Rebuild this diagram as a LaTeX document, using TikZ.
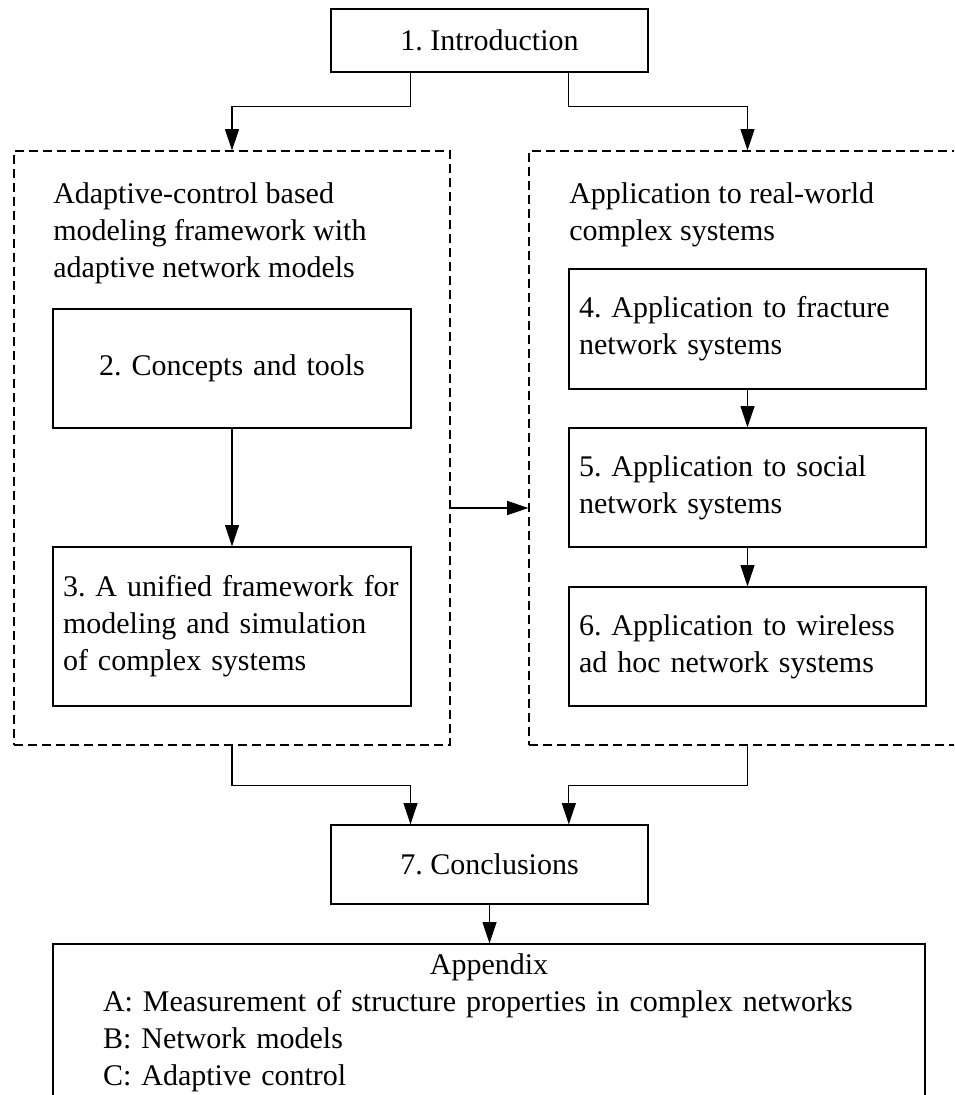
\documentclass[tikz,border=0pt]{standalone}
\usepackage{fontspec}
\setmainfont{Liberation Serif}
\usetikzlibrary{arrows.meta}
\frenchspacing

\begin{document}
\begin{tikzpicture}
[x=0.75pt, y=-0.75pt,
every node/.style = {font=\fontsize{22.5}{27.75}\selectfont},
box/.style = {shape=rectangle, draw, line width=0.9pt, inner sep=7.5pt},
grp/.style = {shape=rectangle, draw, line width=0.8pt,
	dash pattern=on 7pt off 3.5pt, inner sep=0pt},
arr/.style = {line width=0.8pt, -{Triangle[length=16pt,width=10.5pt]}}]
 \clip (0,0) rectangle (954,1095);

  % top and bottom
  \node[box, minimum width=237.75pt, minimum height=47.25pt] (intro) at (489.5,40.5) {1. Introduction};
  \node[box, minimum width=237.75pt, minimum height=59.25pt] (conc) at (489.5,864.5) {7. Conclusions};
  \node[box, text width=654pt, inner sep=0pt, minimum height=118.5pt, align=left] (app) at (489,1023)
  	{{\centering Appendix\par}
  	\hspace*{37.5pt}A: Measurement of structure properties in complex networks\par
  	\hspace*{37.5pt}B: Network models\par
  	\hspace*{37.5pt}C: Adaptive control};

  % dashed groups
  \node[grp, minimum width=327pt, minimum height=445.5pt] (lgrp) at (232,448) {};
  \node[grp, minimum width=327.75pt, minimum height=445.5pt] (rgrp) at (747.5,448) {};
  \node[anchor=north west, inner sep=0pt, align=left] (lhead) at (53,182)
  	{Adaptive-control based\\modeling framework with\\adaptive network models};
  \node[anchor=north west, inner sep=0pt, align=left] (rhead) at (569,182)
  	{Application to real-world\\complex systems};

  % left column
  \node[box, text width=253.5pt, minimum height=89.25pt, align=center] (concepts) at (232,368.5)
  	{2. Concepts and tools};
  \node[box, text width=253.5pt, minimum height=119.25pt, align=left] (unified) at (232,626.5)
  	{3. A unified framework for\\modeling and simulation\\of complex systems};

  % right column
  \node[box, text width=252.75pt, minimum height=90pt, align=left] (fracture) at (747.5,329)
  	{4. Application to fracture\\network systems};
  \node[box, text width=252.75pt, minimum height=89.25pt, align=left] (social) at (747.5,487.5)
  	{5. Application to social\\network systems};
  \node[box, text width=252.75pt, minimum height=89.25pt, align=left] (wireless) at (747.5,646.5)
  	{6. Application to wireless\\ad hoc network systems};

  \draw[arr] ([xshift=-59.25pt]intro.south) -- ++(0,34) -| (lgrp.north);
  \draw[arr] ([xshift=59.5pt]intro.south) -- ++(0,34) -| (rgrp.north);
  \draw[arr] (concepts) -- (unified);
  \draw[arr] (fracture) -- (social);
  \draw[arr] (social) -- (wireless);
  \draw[arr] ([yshift=-45pt]lgrp.east) -- ([yshift=-45pt]rgrp.west);
  \draw[arr] (lgrp.south) -- ++(0,40) -| ([xshift=-59.25pt]conc.north);
  \draw[arr] (rgrp.south) -- ++(0,40) -| ([xshift=59.5pt]conc.north);
  \draw[arr] (conc.south) -- (conc.south |- app.north);
\end{tikzpicture}
\end{document}
